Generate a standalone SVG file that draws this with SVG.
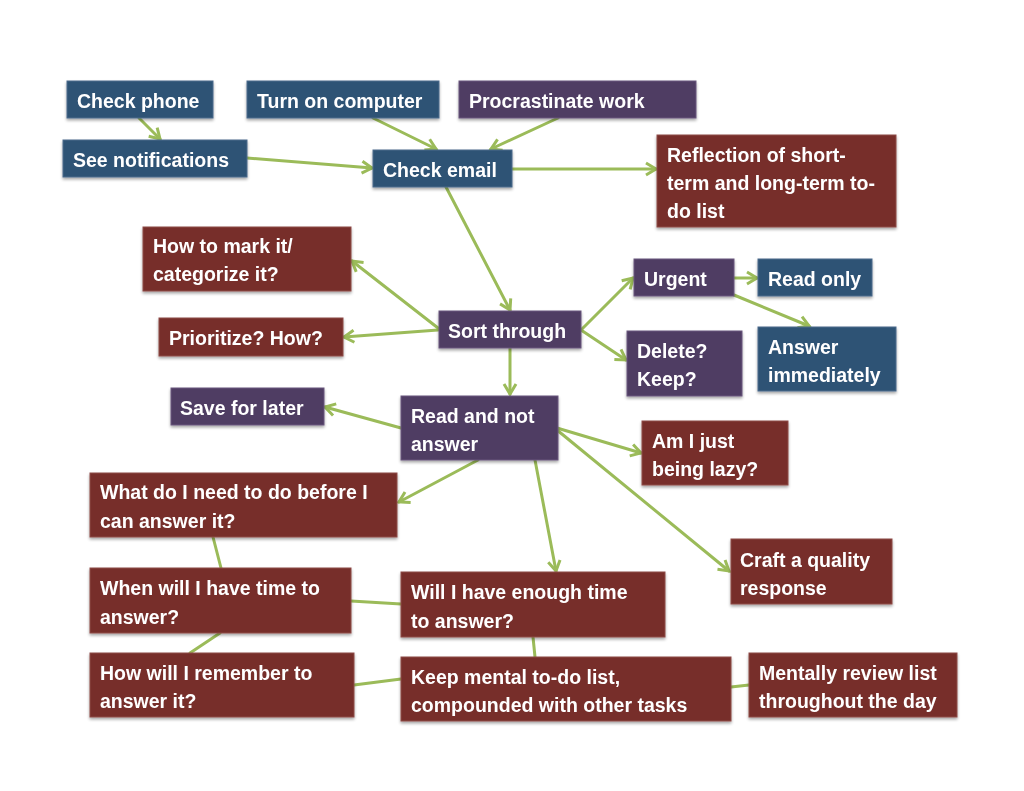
<svg xmlns="http://www.w3.org/2000/svg" width="1024" height="791" viewBox="0 0 1024 791">
<style>
  .box { stroke-width: 1; }
  .blue { fill: #2F5275; stroke: #4a6a8c; }
  .purple { fill: #4F3C63; stroke: #6a587c; }
  .red { fill: #772F2C; stroke: #8e4a46; }
  text { font-family: "Liberation Sans", Arial, sans-serif; font-weight: bold; font-size: 19.5px; fill: #ffffff; }
  .conn line { stroke: #9BBB59; stroke-width: 3; stroke-linecap: round; fill: none; }
  .arr { marker-end: url(#ah); }
</style>
<defs>
  <marker id="ah" markerUnits="userSpaceOnUse" markerWidth="16" markerHeight="16" viewBox="0 0 16 16" refX="13" refY="8" orient="auto">
    <path d="M3,2 L13,8 L3,14" fill="none" stroke="#9BBB59" stroke-width="3" stroke-linejoin="miter"/>
  </marker>
  <filter id="sh" x="-10%" y="-10%" width="120%" height="140%">
    <feGaussianBlur in="SourceAlpha" stdDeviation="1.5"/>
    <feOffset dx="0" dy="2" result="b"/>
    <feComponentTransfer><feFuncA type="linear" slope="0.35"/></feComponentTransfer>
    <feMerge><feMergeNode/><feMergeNode in="SourceGraphic"/></feMerge>
  </filter>
</defs>
<rect x="0" y="0" width="1024" height="791" fill="#ffffff"/>

<g id="connectors" class="conn">
  <line class="arr" x1="139" y1="118" x2="160" y2="139"/>
  <line class="arr" x1="373" y1="118" x2="436" y2="149"/>
  <line class="arr" x1="558" y1="118" x2="491" y2="149"/>
  <line class="arr" x1="247" y1="158" x2="372" y2="168"/>
  <line class="arr" x1="512" y1="169" x2="656" y2="169"/>
  <line class="arr" x1="446" y1="187" x2="510" y2="310"/>
  <line class="arr" x1="438" y1="328" x2="352" y2="261"/>
  <line class="arr" x1="438" y1="330" x2="344" y2="337"/>
  <line class="arr" x1="510" y1="348" x2="510" y2="394"/>
  <line class="arr" x1="581" y1="330" x2="633" y2="278"/>
  <line class="arr" x1="581" y1="330" x2="626" y2="360"/>
  <line class="arr" x1="734" y1="278" x2="757" y2="278"/>
  <line class="arr" x1="734" y1="295" x2="809" y2="326"/>
  <line class="arr" x1="401" y1="428" x2="325" y2="407"/>
  <line class="arr" x1="478" y1="460" x2="399" y2="502"/>
  <line class="arr" x1="535" y1="460" x2="556" y2="571"/>
  <line class="arr" x1="557" y1="428" x2="641" y2="453"/>
  <line class="arr" x1="557" y1="430" x2="729" y2="571"/>
  <line x1="213" y1="537" x2="221" y2="568"/>
  <line x1="220" y1="633" x2="190" y2="653"/>
  <line x1="351" y1="601" x2="401" y2="604"/>
  <line x1="354" y1="685" x2="401" y2="679"/>
  <line x1="533" y1="637" x2="535" y2="657"/>
  <line x1="731" y1="687" x2="749" y2="685"/>
</g>

<g id="check-phone" filter="url(#sh)"><rect class="box blue" x="67" y="81" width="146" height="37"/><text x="77" y="108">Check phone</text></g>
<g id="turn-on-computer" filter="url(#sh)"><rect class="box blue" x="247" y="81" width="192" height="37"/><text x="257" y="108">Turn on computer</text></g>
<g id="procrastinate-work" filter="url(#sh)"><rect class="box purple" x="459" y="81" width="237" height="37"/><text x="469" y="108">Procrastinate work</text></g>
<g id="see-notifications" filter="url(#sh)"><rect class="box blue" x="63" y="140" width="184" height="37"/><text x="73" y="167">See notifications</text></g>
<g id="check-email" filter="url(#sh)"><rect class="box blue" x="373" y="150" width="139" height="37"/><text x="383" y="177">Check email</text></g>
<g id="reflection" filter="url(#sh)"><rect class="box red" x="657" y="135" width="239" height="92"/><text x="667" y="162">Reflection of short-</text><text x="667" y="190">term and long-term to-</text><text x="667" y="218">do list</text></g>
<g id="how-to-mark" filter="url(#sh)"><rect class="box red" x="143" y="227" width="208" height="64"/><text x="153" y="253">How to mark it/</text><text x="153" y="281">categorize it?</text></g>
<g id="urgent" filter="url(#sh)"><rect class="box purple" x="634" y="259" width="100" height="37"/><text x="644" y="286">Urgent</text></g>
<g id="read-only" filter="url(#sh)"><rect class="box blue" x="758" y="259" width="114" height="37"/><text x="768" y="286">Read only</text></g>
<g id="sort-through" filter="url(#sh)"><rect class="box purple" x="439" y="311" width="142" height="37"/><text x="448" y="338">Sort through</text></g>
<g id="prioritize" filter="url(#sh)"><rect class="box red" x="159" y="318" width="184" height="38"/><text x="169" y="345">Prioritize? How?</text></g>
<g id="delete-keep" filter="url(#sh)"><rect class="box purple" x="627" y="331" width="115" height="65"/><text x="637" y="358">Delete?</text><text x="637" y="386">Keep?</text></g>
<g id="answer-immediately" filter="url(#sh)"><rect class="box blue" x="758" y="327" width="138" height="64"/><text x="768" y="354">Answer</text><text x="768" y="382">immediately</text></g>
<g id="save-for-later" filter="url(#sh)"><rect class="box purple" x="171" y="388" width="153" height="37"/><text x="180" y="415">Save for later</text></g>
<g id="read-not-answer" filter="url(#sh)"><rect class="box purple" x="401" y="396" width="157" height="64"/><text x="411" y="423">Read and not</text><text x="411" y="451">answer</text></g>
<g id="being-lazy" filter="url(#sh)"><rect class="box red" x="642" y="421" width="146" height="64"/><text x="652" y="448">Am I just</text><text x="652" y="476">being lazy?</text></g>
<g id="what-need" filter="url(#sh)"><rect class="box red" x="90" y="473" width="307" height="64"/><text x="100" y="499">What do I need to do before I</text><text x="100" y="528">can answer it?</text></g>
<g id="craft-response" filter="url(#sh)"><rect class="box red" x="731" y="539" width="161" height="65"/><text x="740" y="567">Craft a quality</text><text x="740" y="595">response</text></g>
<g id="when-time" filter="url(#sh)"><rect class="box red" x="90" y="568" width="261" height="65"/><text x="100" y="595">When will I have time to</text><text x="100" y="624">answer?</text></g>
<g id="enough-time" filter="url(#sh)"><rect class="box red" x="401" y="572" width="264" height="65"/><text x="411" y="599">Will I have enough time</text><text x="411" y="628">to answer?</text></g>
<g id="how-remember" filter="url(#sh)"><rect class="box red" x="90" y="653" width="264" height="64"/><text x="100" y="680">How will I remember to</text><text x="100" y="708">answer it?</text></g>
<g id="keep-mental" filter="url(#sh)"><rect class="box red" x="401" y="657" width="330" height="64"/><text x="411" y="684">Keep mental to-do list,</text><text x="411" y="712">compounded with other tasks</text></g>
<g id="mentally-review" filter="url(#sh)"><rect class="box red" x="749" y="653" width="208" height="64"/><text x="759" y="680">Mentally review list</text><text x="759" y="708">throughout the day</text></g>
</svg>
